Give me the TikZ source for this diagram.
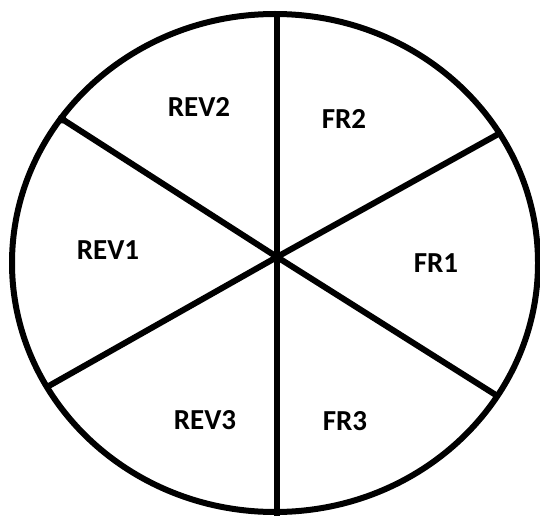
\documentclass[tikz,border=0pt]{standalone}
\usepackage{fontspec}
\setmainfont{Carlito}
\begin{document}
\begin{tikzpicture}[x=1pt,y=-1pt,
  rim/.style={line width=6pt},
  spoke/.style={line width=6pt},
  lab/.style={font=\fontsize{29}{33}\selectfont\bfseries, inner sep=0pt, anchor=center}]
\useasboundingbox (0,0) rectangle (540,516);
\coordinate (O) at (277,257);
\coordinate (T) at (277,13);
\coordinate (Bt) at (277,516);
\coordinate (A) at (62,119);
\coordinate (B) at (502,132);
\coordinate (C) at (47,387);
\coordinate (D) at (499,397);
\draw[rim] (275,263) ellipse [x radius=263, y radius=249];
\draw[spoke] (T) -- (O) -- (Bt);
\draw[spoke] (A) -- (O) -- (D);
\draw[spoke] (C) -- (O) -- (B);
\fill (A) circle (4.5pt);
\node[lab] (rev2) at (199,107) {REV2};
\node[lab] (fr2) at (344,119) {FR2};
\node[lab] (rev1) at (108,250) {REV1};
\node[lab] (fr1) at (436,263) {FR1};
\node[lab] (rev3) at (205,420) {REV3};
\node[lab] (fr3) at (345,421) {FR3};
\end{tikzpicture}
\end{document}
